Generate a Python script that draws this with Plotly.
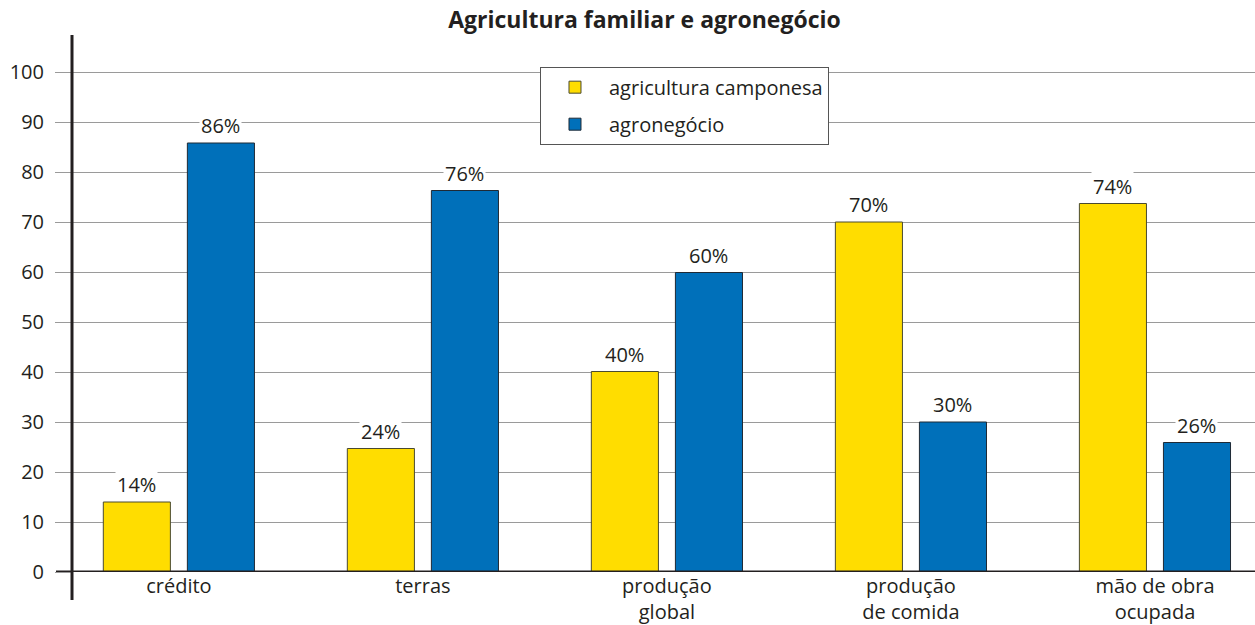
import plotly.graph_objects as go

categories = ["crédito", "terras", "produção<br>global", "produção<br>de comida", "mão de obra<br>ocupada"]
camponesa = [14, 24.7, 40.1, 70, 73.7]
agronegocio = [85.8, 76.3, 59.9, 30, 25.9]
camponesa_labels = ["14%", "24%", "40%", "70%", "74%"]
agronegocio_labels = ["86%", "76%", "60%", "30%", "26%"]
y_ticks = [0, 10, 20, 30, 40, 50, 60, 70, 80, 90, 100]

YELLOW = "#FFDD00"
BLUE = "#0070BA"
TXT = "#231F20"
FONT = "Open Sans"

fig = go.Figure()
fig.add_trace(go.Bar(x=categories, y=camponesa, name="agricultura camponesa",
                     marker=dict(color=YELLOW, line=dict(color="#4a4a30", width=1)),
                     legendgroup="a"))
fig.add_trace(go.Bar(x=categories, y=agronegocio, name="agronegócio",
                     marker=dict(color=BLUE, line=dict(color="#1f2a35", width=1)),
                     legendgroup="b"))

annotations = []
for i, c in enumerate(categories):
    for val, lab, off in ((camponesa[i], camponesa_labels[i], -0.172), (agronegocio[i], agronegocio_labels[i], 0.172)):
        annotations.append(dict(x=i + off, y=val, xref="x", yref="y", text=lab, showarrow=False,
                                yanchor="bottom", yshift=2, bgcolor="white", borderpad=1,
                                font=dict(family=FONT, size=20, color=TXT)))

fig.update_layout(
    width=1255, height=625,
    margin=dict(l=72, r=0, t=35, b=53),
    paper_bgcolor="white", plot_bgcolor="white",
    barmode="group", bargap=0.311, bargroupgap=0.202,
    font=dict(family=FONT, size=20, color=TXT),
    title=dict(text="<b>Agricultura familiar e agronegócio</b>", x=0.5135, xanchor="center",
               y=0.968, yanchor="middle", font=dict(family=FONT, size=23, color=TXT)),
    showlegend=True,
    legend=dict(x=0.3956, y=0.941, xanchor="left", yanchor="top", bordercolor="#555555", borderwidth=1,
                bgcolor="white", font=dict(family=FONT, size=20, color=TXT), tracegroupgap=8,
                itemwidth=58, traceorder="grouped"),
    xaxis=dict(type="category", range=[-0.438, 4.41], showline=False, showgrid=False, ticks="",
               tickfont=dict(family=FONT, size=20, color=TXT), ticklabelstandoff=0, zeroline=False,
               automargin=False),
    yaxis=dict(range=[0, 107.4], tickvals=y_ticks, showline=False, showgrid=True, gridcolor="#9a9a9a",
               gridwidth=1, ticks="outside", ticklen=16, tickcolor="#9a9a9a", tickwidth=1,
               ticklabelstandoff=7, zeroline=False, tickfont=dict(family=FONT, size=20, color=TXT),
               automargin=False),
    annotations=annotations,
    shapes=[
        dict(type="line", xref="paper", yref="paper", x0=0, x1=0, y0=-0.052, y1=1,
             line=dict(color=TXT, width=3)),
        dict(type="line", xref="paper", yref="y", x0=-16 / 1183, x1=1, y0=0, y1=0,
             line=dict(color=TXT, width=3)),
    ],
)

fig.write_html("out.html")
